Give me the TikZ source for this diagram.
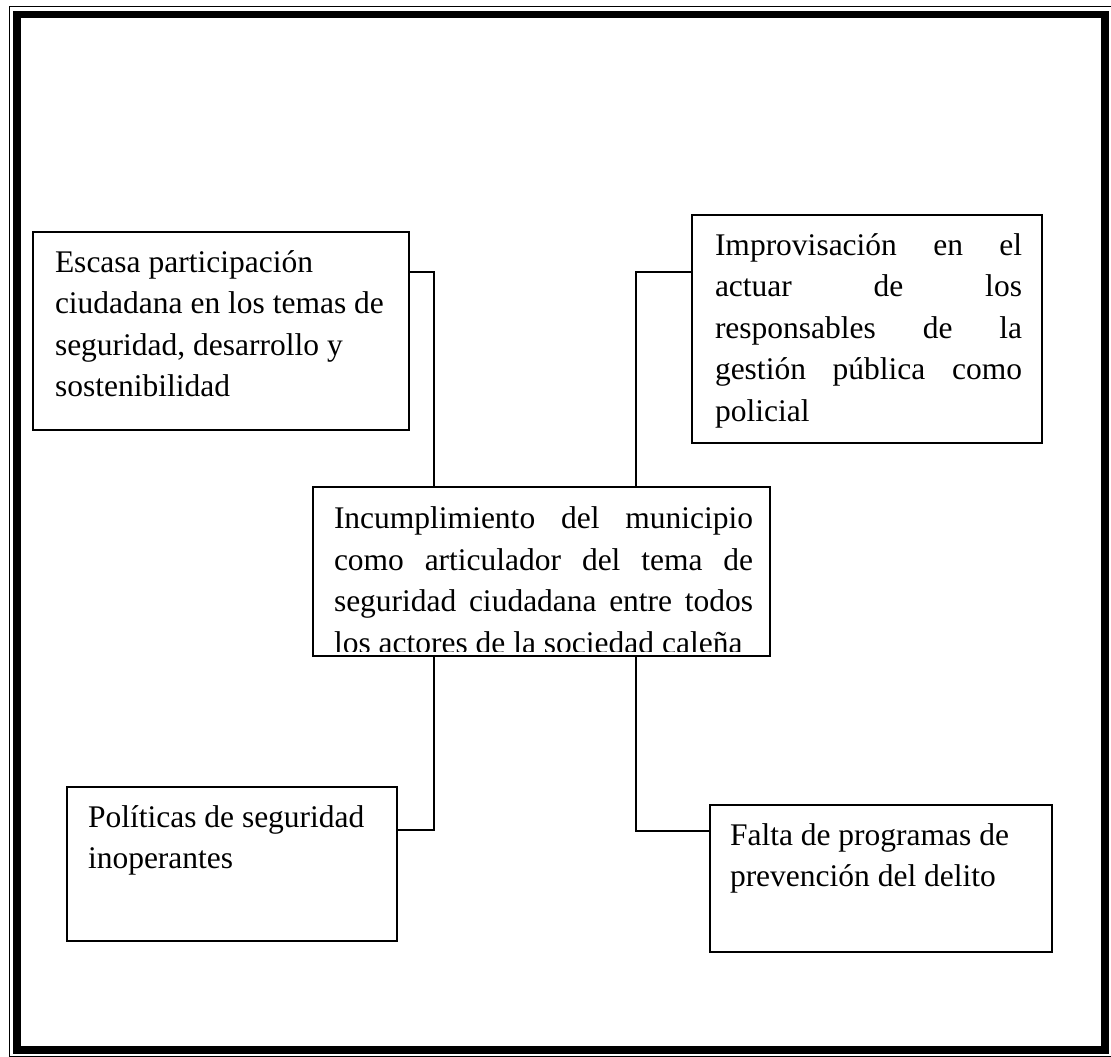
\documentclass[tikz,border=0pt]{standalone}
\usepackage{fontspec}
\setmainfont{Liberation Serif}
\usetikzlibrary{calc}
\tikzset{
  causebox/.style={draw, line width=1.6pt, rectangle, anchor=north west, inner sep=0pt, outer sep=0pt},
  boxtext/.style={anchor=base west, inner sep=0pt, outer sep=0pt, font=\fontsize{31.5}{41.5}\selectfont},
  link/.style={line width=1.4pt},
}
\begin{document}
\begin{tikzpicture}[x=1pt,y=-1pt]
\useasboundingbox (0,0) rectangle (1111,1057);
\fill[white] (0,0) rectangle (1111,1057);
% page frame
\draw[line width=1pt] (9.5,6.5) rectangle (1113,1056.5);
\draw[line width=7.5pt] (17,14.5) rectangle (1105,1050);

% boxes
\node[causebox, minimum width=376pt, minimum height=198pt] (tl) at (33,232) {};
\node[causebox, minimum width=350pt, minimum height=228pt] (tr) at (692,215) {};
\node[causebox, minimum width=330pt, minimum height=154pt] (bl) at (67,787) {};
\node[causebox, minimum width=342pt, minimum height=147pt] (br) at (710,805) {};

% texts
\node[boxtext] (tltext) at (55,272) {\parbox[t]{340pt}{Escasa participación\\ciudadana en los temas de\\seguridad, desarrollo y\\sostenibilidad}};
\node[boxtext] (trtext) at (715,255) {\parbox[t]{307pt}{%
\makebox[307pt][s]{Improvisación en el}\\
\makebox[307pt][s]{actuar de los}\\
\makebox[307pt][s]{responsables de la}\\
\makebox[307pt][s]{gestión pública como}\\
policial}};
\node[boxtext] (bltext) at (88,827) {\parbox[t]{300pt}{Políticas de seguridad\\inoperantes}};
\node[boxtext] (brtext) at (730,845) {\parbox[t]{310pt}{Falta de programas de\\prevención del delito}};

% central box with clipped text
\begin{scope}
\clip (313,487) rectangle (770,651);
\node[boxtext] (ctext) at (334,528.5) {\parbox[t]{419pt}{%
\makebox[419pt][s]{Incumplimiento del municipio}\\
\makebox[419pt][s]{como articulador del tema de}\\
\makebox[419pt][s]{seguridad ciudadana entre todos}\\
los actores de la sociedad caleña}};
\end{scope}
\node[causebox, minimum width=457pt, minimum height=169pt] (c) at (313,487) {};

% connectors
\draw[link] ($(tl.north east)+(0,40)$) -| ($(c.north west)+(121,0)$);
\draw[link] ($(c.north west)+(323,0)$) |- ($(tr.north west)+(0,57)$);
\draw[link] ($(bl.north east)+(0,43)$) -| ($(c.south west)+(121,0)$);
\draw[link] ($(c.south west)+(323,0)$) |- ($(br.north west)+(0,26)$);
\end{tikzpicture}
\end{document}
